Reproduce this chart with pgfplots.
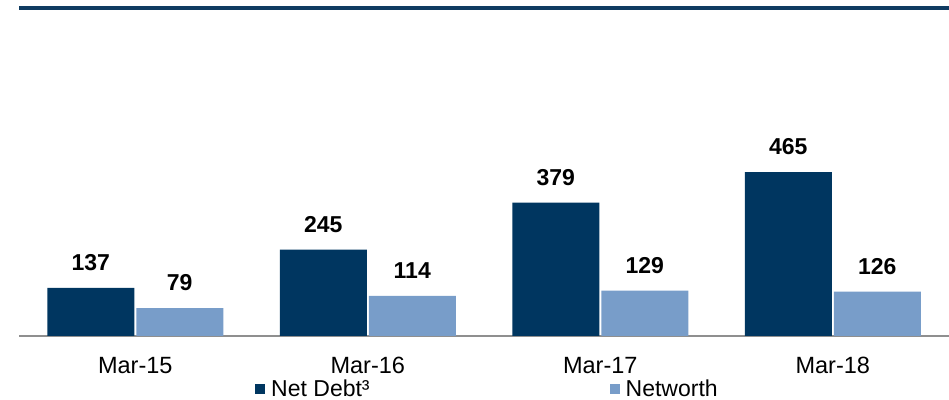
\documentclass[border=0pt]{standalone}
\usepackage{fontspec}
\setmainfont{Liberation Sans}
\usepackage{pgfplots}
\pgfplotsset{compat=1.18}

\definecolor{netdebt}{HTML}{003660}
\definecolor{networth}{HTML}{789DC9}
\definecolor{topline}{HTML}{0F3B61}
\definecolor{axisgrey}{HTML}{8F8F8F}

\begin{document}
\begin{tikzpicture}
\begin{axis}[
    scale only axis,
    width=930pt, height=327.5pt,
    xmin=-0.5, xmax=3.5,
    ymin=0, ymax=930,
    ybar=2pt,
    bar width=87pt,
    axis x line*=bottom,
    axis y line=none,
    x axis line style={axisgrey, line width=1.5pt, -},
    xtick={0,1,2,3},
    xticklabels={Mar-15,Mar-16,Mar-17,Mar-18},
    ytick=\empty,
    major tick length=0pt,
    xticklabel style={font=\fontsize{23.5}{27}\selectfont, inner sep=0pt, anchor=north, yshift=-21pt},
    nodes near coords,
    /pgf/number format/assume math mode=true,
    every node near coord/.append style={font=\fontsize{23}{27}\selectfont\bfseries, anchor=south, inner sep=0pt, yshift=17pt},
    legend columns=2,
    legend style={draw=none, fill=none, at={(0.2538,-0.1618)}, anchor=west,
        inner sep=0pt, font=\fontsize{23}{27}\selectfont, cells={anchor=west},
        /tikz/every odd column/.append style={column sep=4pt},
        /tikz/every even column/.append style={column sep=238pt}},
    legend image code/.code={\draw[#1, draw=none] (0pt,-5pt) rectangle (10pt,5pt);},
    clip=false,
]
\addplot[fill=netdebt, draw=none] coordinates {(0,137) (1,245) (2,379) (3,465)};
\addlegendentry{Net Debt³}
\addplot[fill=networth, draw=none] coordinates {(0,79) (1,114) (2,129) (3,126)};
\addlegendentry{Networth}

\draw[topline, line width=4pt] (rel axis cs:0,1) -- (rel axis cs:1,1);
\coordinate (bl) at (rel axis cs:0,0);
\coordinate (tr) at (rel axis cs:1,1);
\end{axis}
\pgfresetboundingbox
\path[use as bounding box] ([xshift=-19pt,yshift=-64pt]bl) rectangle ([yshift=8.5pt]tr);
\end{tikzpicture}
\end{document}
